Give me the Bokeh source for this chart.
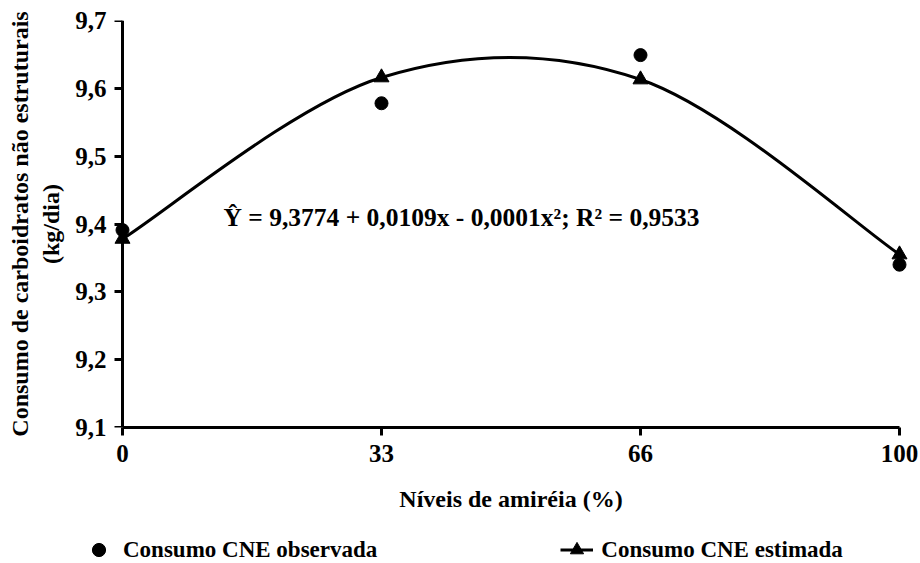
from bokeh.plotting import figure
from bokeh.layouts import column
from bokeh.models import Range1d, FixedTicker, Label, Legend, LegendItem, LinearAxis
from bokeh.embed import file_html
from bokeh.resources import INLINE

# ---- data ----
levels = ["0", "33", "66", "100"]
observed = [9.391, 9.578, 9.649, 9.340]
estimated = [9.378, 9.616, 9.613, 9.355]
y_ticks = [9.1, 9.2, 9.3, 9.4, 9.5, 9.6, 9.7]
y_tick_labels = ["9,1", "9,2", "9,3", "9,4", "9,5", "9,6", "9,7"]
equation = "Ŷ = 9,3774 + 0,0109x - 0,0001x²; R² = 0,9533"
x_title = "Níveis de amiréia (%)"
y_title = "Consumo de carboidratos não estruturais\n(kg/dia)"
series_names = ["Consumo CNE observada", "Consumo CNE estimada"]

xpos = list(range(len(levels)))
FONT = "Liberation Serif"
PAD = 0.0386

p = figure(width=920, height=522, output_backend="svg", toolbar_location=None,
           x_range=Range1d(xpos[0] - PAD, xpos[-1] + PAD),
           y_range=Range1d(y_ticks[0], y_ticks[-1]),
           min_border_left=112, min_border_right=11, min_border_top=20,
           min_border_bottom=95)
p.frame_align = False
p.outline_line_color = None
p.grid.visible = False
p.background_fill_color = "white"
p.border_fill_color = "white"

# smooth line (Excel-like Bezier smoothing through the estimated points)
n = len(xpos)
x0s, y0s, x1s, y1s, cx0, cy0, cx1, cy1 = [], [], [], [], [], [], [], []
for i in range(n - 1):
    a = max(i - 1, 0)
    d = min(i + 2, n - 1)
    x0s.append(xpos[i]); y0s.append(estimated[i])
    x1s.append(xpos[i + 1]); y1s.append(estimated[i + 1])
    cx0.append(xpos[i] + (xpos[i + 1] - xpos[a]) / 6)
    cy0.append(estimated[i] + (estimated[i + 1] - estimated[a]) / 6)
    cx1.append(xpos[i + 1] - (xpos[d] - xpos[i]) / 6)
    cy1.append(estimated[i + 1] - (estimated[d] - estimated[i]) / 6)

curve = p.bezier(x0=x0s, y0=y0s, x1=x1s, y1=y1s, cx0=cx0, cy0=cy0, cx1=cx1, cy1=cy1,
                 line_color="black", line_width=3)
est_r = p.scatter(xpos, estimated, marker="triangle", size=15, color="black")
obs_r = p.scatter(xpos, observed, marker="circle", size=13, color="black")


def style(ax, size="25px"):
    ax.axis_line_width = 3
    ax.axis_line_color = "black"
    ax.major_tick_line_width = 3
    ax.major_tick_line_color = "black"
    ax.minor_tick_line_color = None
    ax.major_label_text_font = FONT
    ax.major_label_text_font_style = "bold"
    ax.major_label_text_font_size = size
    ax.major_label_text_color = "black"
    ax.axis_label_text_font = FONT
    ax.axis_label_text_font_style = "bold"
    ax.axis_label_text_font_size = "24px"
    ax.axis_label_text_color = "black"


# x axis
xa = p.xaxis[0]
style(xa)
xa.major_tick_out = 8
xa.major_tick_in = 0
xa.ticker = FixedTicker(ticks=xpos)
xa.major_label_overrides = {i: lab for i, lab in zip(xpos, levels)}
xa.bounds = (xpos[0], xpos[-1])
xa.major_label_standoff = 9
xa.axis_label = x_title
xa.axis_label_standoff = 21

# y axis: labels and title (no line) in the panel
ya = p.yaxis[0]
style(ya)
ya.axis_line_color = None
ya.major_tick_line_color = None
ya.major_tick_out = 0
ya.major_tick_in = 0
ya.ticker = FixedTicker(ticks=y_ticks)
ya.major_label_overrides = {t: lab for t, lab in zip(y_ticks, y_tick_labels)}
ya.major_label_standoff = 6
ya.axis_label = y_title
ya.axis_label_standoff = 8

# y axis line and ticks at x = first level
yb = LinearAxis(fixed_location=xpos[0], bounds=(y_ticks[0], y_ticks[-1]),
                ticker=FixedTicker(ticks=y_ticks))
style(yb, size="0px")
yb.major_label_text_alpha = 0
yb.major_label_standoff = 0
yb.major_tick_out = 8
yb.major_tick_in = 0
p.add_layout(yb, "left")

# equation
p.add_layout(Label(x=0.39, y=9.41, text=equation, text_font=FONT,
                   text_font_style="bold", text_font_size="25.5px",
                   text_color="black", text_baseline="alphabetic"))

# legend strip
lf = figure(width=920, height=41, output_backend="svg", toolbar_location=None,
            x_range=Range1d(0, 920), y_range=Range1d(0, 41),
            x_axis_location=None, y_axis_location=None,
            min_border_left=0, min_border_right=0, min_border_top=0,
            min_border_bottom=0)
lf.frame_align = False
lf.outline_line_color = None
lf.grid.visible = False
lf.background_fill_color = "white"
lf.border_fill_color = "white"
# legend-key renderers (hidden on the strip; only their legend keys are drawn)
k_obs = lf.scatter(xpos, observed, marker="circle", size=13, color="black", visible=False)
k_line = lf.line(xpos, estimated, line_color="black", line_width=3, visible=False)
k_tri = lf.scatter(xpos, estimated, marker="triangle", size=15, color="black", visible=False)

leg = Legend(items=[LegendItem(label=series_names[0], renderers=[k_obs]),
                    LegendItem(label=series_names[1], renderers=[k_line, k_tri])],
             orientation="horizontal", location=(82, -3))
leg.padding = 0
leg.margin = 0
leg.spacing = 183
leg.border_line_color = None
leg.background_fill_alpha = 0
leg.glyph_width = 33
leg.glyph_height = 33
leg.label_height = 24
leg.label_standoff = 8
leg.label_text_font = FONT
leg.label_text_font_style = "bold"
leg.label_text_font_size = "23px"
leg.label_text_color = "black"
lf.add_layout(leg, "center")

layout = column(p, lf, spacing=0)
open("out.html", "w").write(file_html(layout, INLINE))
